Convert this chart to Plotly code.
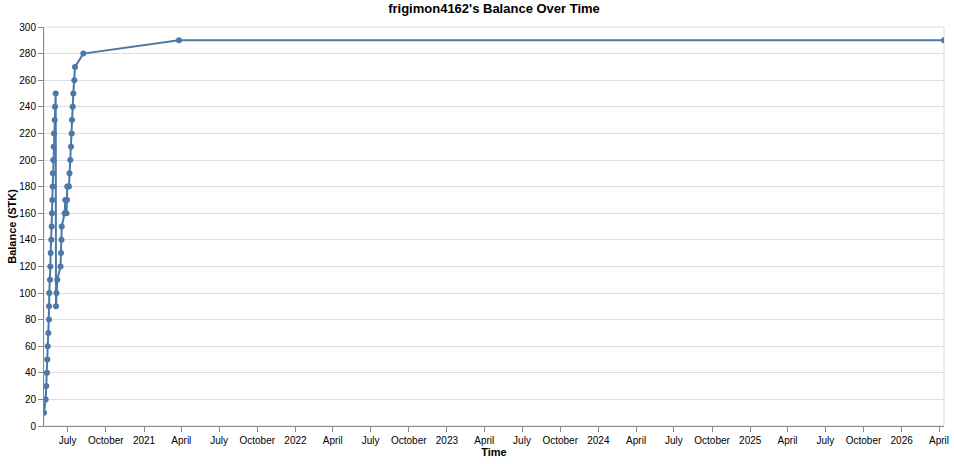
import pandas as pd
import plotly.graph_objects as go

# balance history
times = [
    "2020-05-05 00:00", "2020-05-09 02:00", "2020-05-10 12:00", "2020-05-12 05:00",
    "2020-05-13 00:00", "2020-05-13 22:00", "2020-05-15 10:00", "2020-05-17 00:00",
    "2020-05-17 06:00", "2020-05-17 19:00", "2020-05-19 12:00", "2020-05-20 05:00",
    "2020-05-21 02:00", "2020-05-22 14:00", "2020-05-23 14:00", "2020-05-24 07:00",
    "2020-05-25 00:00", "2020-05-26 00:00", "2020-05-26 06:00", "2020-05-27 10:00",
    "2020-05-28 10:00", "2020-05-29 02:00", "2020-05-30 19:00", "2020-05-31 12:00",
    "2020-06-02 05:00", "2020-06-02 22:00", "2020-06-04 02:00", "2020-06-06 00:00",
    "2020-06-13 19:00", "2020-06-15 00:00", "2020-06-16 05:00", "2020-06-16 17:00",
    "2020-06-23 22:00", "2020-06-25 07:00", "2020-06-28 05:00", "2020-06-29 10:00",
    "2020-06-30 02:00", "2020-07-04 05:00", "2020-07-05 10:00", "2020-07-07 10:00",
    "2020-07-09 02:00", "2020-07-10 17:00", "2020-07-11 12:00", "2020-07-13 05:00",
    "2020-07-14 14:00", "2020-07-17 00:00", "2020-07-18 17:00", "2020-08-07 17:00",
    "2021-03-26 07:00", "2026-04-13 00:00",
]
balance = [
    10, 20, 30, 40, 50, 60, 70, 80, 90, 100, 110, 120, 130, 140, 150, 160,
    170, 180, 190, 200, 210, 220, 230, 240, 250,
    90, 100, 110, 120, 130, 140, 150, 160, 170, 160, 170, 180, 180,
    190, 200, 210, 220, 230, 240, 250, 260, 270, 280,
    290, 290,
]

# quarterly ticks like vega-lite: year on January, month name otherwise
tick_dates = pd.date_range("2020-07-01", "2026-04-01", freq="QS")
tick_text = [str(d.year) if d.month == 1 else d.strftime("%B") for d in tick_dates]

blue = "#4c78a8"
font = "Liberation Sans, Arial, sans-serif"

fig = go.Figure()
fig.add_trace(go.Scatter(
    x=pd.to_datetime(times), y=balance,
    mode="lines+markers",
    line=dict(color=blue, width=2),
    marker=dict(color=blue, size=6),
    hoverinfo="x+y",
))

fig.update_layout(
    width=954, height=464,
    margin=dict(l=44, r=10, t=27, b=38, pad=0, autoexpand=False),
    plot_bgcolor="white", paper_bgcolor="white",
    font=dict(family=font, size=10, color="#000"),
    showlegend=False,
    title=dict(text="<b>frigimon4162's Balance Over Time</b>",
               x=0.5, xref="paper", xanchor="center",
               y=1 - 4 / 464, yref="container", yanchor="top",
               font=dict(size=13, family=font, color="#000")),
)

fig.update_xaxes(
    range=[pd.Timestamp(times[0]), pd.Timestamp(times[-1])],
    tickvals=tick_dates, ticktext=tick_text,
    showgrid=False, zeroline=False, automargin=False,
    showline=True, linecolor="#888", linewidth=1,
    ticks="outside", ticklen=5, tickcolor="#888",
    tickfont=dict(size=10),
    title=dict(text="<b>Time</b>", font=dict(size=11), standoff=3),
)
fig.update_yaxes(
    range=[0, 300], dtick=20,
    showgrid=True, gridcolor="#ddd", gridwidth=1,
    zeroline=False, automargin=False,
    showline=True, linecolor="#888", linewidth=1,
    ticks="outside", ticklen=5, tickcolor="#888",
    tickfont=dict(size=10),
    title=dict(text="<b>Balance (STK)</b>", font=dict(size=11), standoff=0),
)

# light view border like vega-lite's default view stroke
fig.add_shape(type="rect", xref="paper", yref="paper", x0=0, y0=0, x1=1, y1=1,
              line=dict(color="#ddd", width=1), layer="below")

# page body has an 8px default margin, drop it so the chart fills the window
fig.write_html("out.html", config={"displayModeBar": False},
               post_script="document.body.style.margin='0';")
